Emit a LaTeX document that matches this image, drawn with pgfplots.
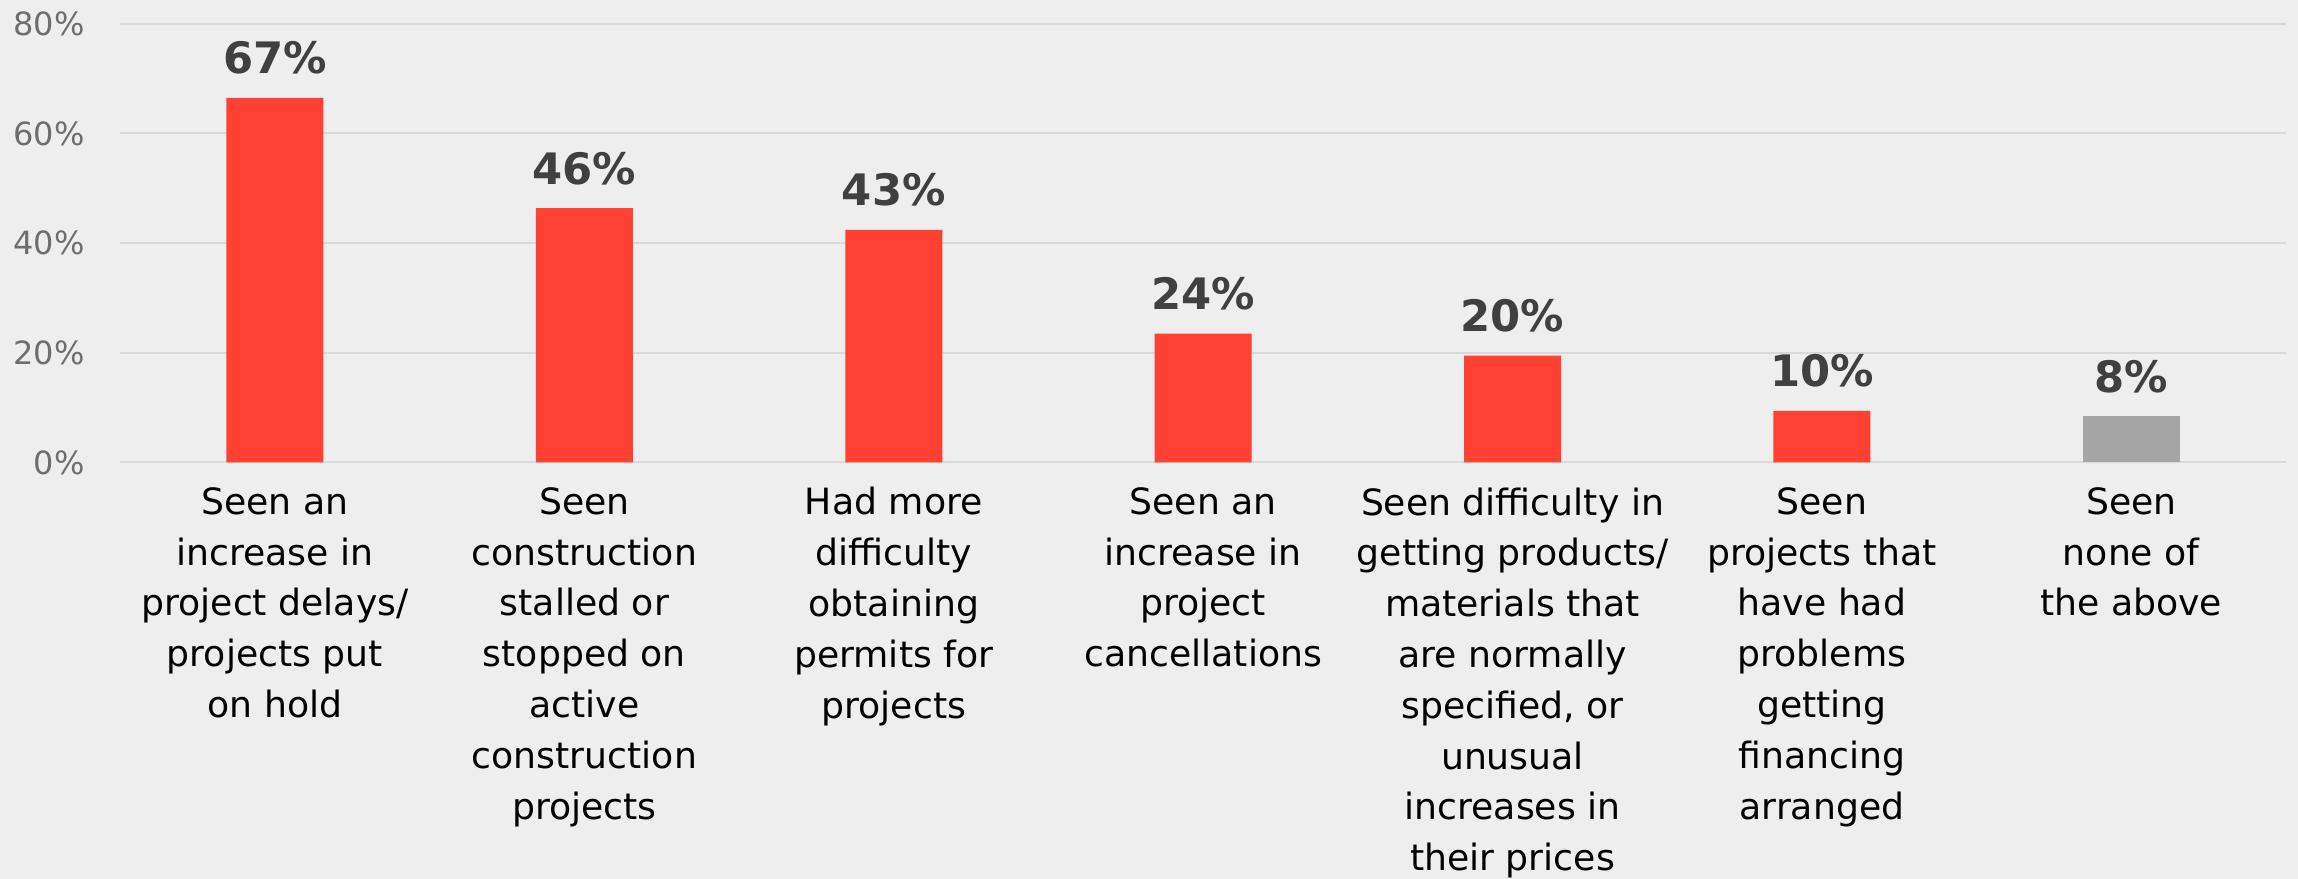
\documentclass[border=0pt]{standalone}
\usepackage{fontspec}
\setmainfont{DejaVu Sans}
\usepackage{pgfplots}
\pgfplotsset{compat=1.18}
\definecolor{bg}{HTML}{EEEEEE}
\definecolor{gridc}{HTML}{D9D9D9}
\definecolor{barred}{HTML}{FF4133}
\definecolor{bargray}{HTML}{A6A6A6}
\definecolor{vallab}{HTML}{404040}
\definecolor{ticklab}{HTML}{6E6E6E}
\begin{document}
\begin{tikzpicture}
\fill[bg] (-36.09pt,-124.95pt) rectangle (653.31pt,138.75pt);
\begin{axis}[
  at={(0pt,0pt)}, anchor=south west,
  scale only axis, width=649.7pt, height=131.64pt,
  xmin=-0.5, xmax=6.5, ymin=0, ymax=80,
  axis line style={draw=none},
  major tick length=0pt,
  ymajorgrids, grid style={gridc, line width=0.6pt},
  ytick={0,20,40,60,80},
  yticklabels={0\%,20\%,40\%,60\%,80\%},
  yticklabel style={font=\fontsize{9.6pt}{11pt}\selectfont, text=ticklab, anchor=east, inner sep=0pt, xshift=-10.5pt},
  xtick={0,1,2,3,4,5,6},
  xticklabels={
    {Seen an\\increase in\\project delays/\\projects put\\on hold},
    {Seen\\construction\\stalled or\\stopped on\\active\\construction\\projects},
    {Had more\\difficulty\\obtaining\\permits for\\projects},
    {Seen an\\increase in\\project\\cancellations},
    {Seen difficulty in\\getting products/\\materials that\\are normally\\specified, or\\unusual\\increases in\\their prices},
    {Seen\\projects that\\have had\\problems\\getting\\financing\\arranged},
    {Seen\\none of\\the above}},
  xticklabel style={font=\fontsize{10.86pt}{15.24pt}\selectfont, text=black, align=center, anchor=north, inner sep=0pt, yshift=-7.3pt, execute at begin node=\strut},
  ybar, bar width=0.3135,
  clip=false,
  point meta=explicit symbolic,
  nodes near coords,
  nodes near coords style={font=\bfseries\fontsize{13pt}{15pt}\selectfont, text=vallab, anchor=south, inner sep=0pt, yshift=6.8pt},
]
\addplot[fill=barred, draw=none, bar shift=0pt] coordinates {
  (0,66.5) [67\%]
  (1,46.4) [46\%]
  (2,42.4) [43\%]
  (3,23.5) [24\%]
  (4,19.5) [20\%]
  (5,9.4) [10\%]
};
\addplot[fill=bargray, draw=none, bar shift=0pt] coordinates {
  (6,8.4) [8\%]
};
\end{axis}
\pgfresetboundingbox
\useasboundingbox (-36.09pt,-124.95pt) rectangle (653.31pt,138.75pt);
\end{tikzpicture}
\end{document}
